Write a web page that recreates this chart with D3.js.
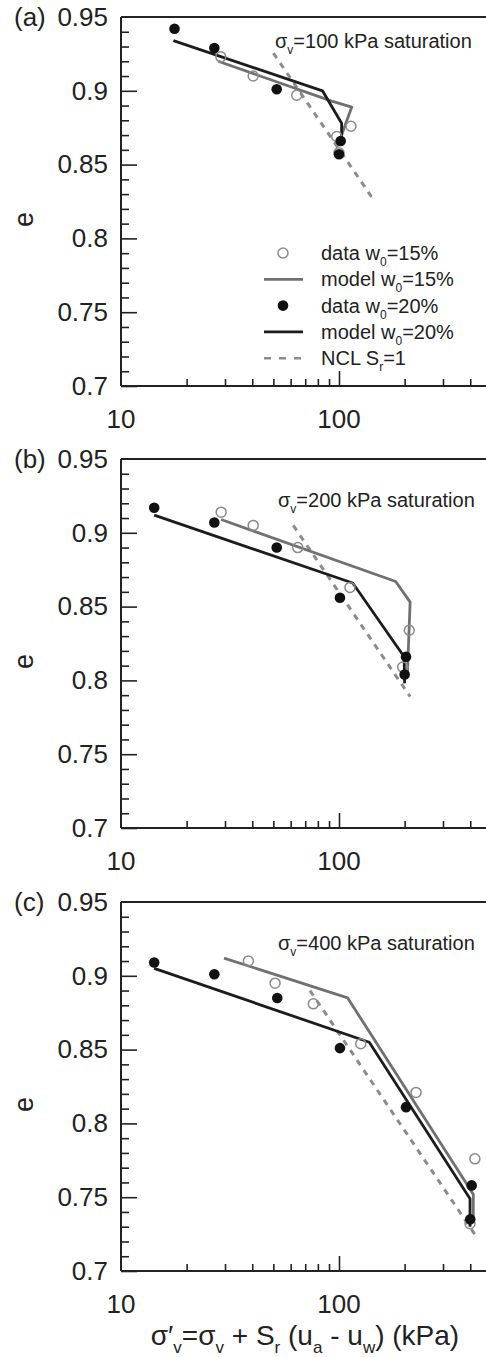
<!DOCTYPE html>
<html>
<head>
<meta charset="utf-8">
<script src="https://cdn.jsdelivr.net/npm/d3@7"></script>
<style>
  body { margin: 0; background: #fff; }
  svg { display: block; font-family: "Liberation Sans", Arial, sans-serif; }
  .tick text { fill: #222; }
</style>
</head>
<body>
<script>
// ---- data (sigma'_v in kPa, void ratio e) ----
var panelLabels = ['(a)', '(b)', '(c)'];
var sigmaV = ['100', '200', '400'];

// (a) sigma_v = 100 kPa
var aData15  = [[28.7, 0.923], [40.4, 0.910], [64, 0.897], [97.6, 0.869], [113.5, 0.876], [100, 0.858]];
var aData20  = [[17.6, 0.942], [26.8, 0.929], [51.8, 0.901], [101.8, 0.866], [100, 0.857]];
var aModel15 = [[27.9, 0.920], [92.6, 0.893], [114.4, 0.889], [102.8, 0.870]];
var aModel20 = [[17.4, 0.934], [84, 0.900], [102.8, 0.878], [102.8, 0.867]];
var aNcl     = [[50, 0.9255], [143.7, 0.8264]];

// (b) sigma_v = 200 kPa
var bData15  = [[28.8, 0.914], [40.4, 0.905], [64.7, 0.890], [112.3, 0.863], [210, 0.834], [196, 0.809]];
var bData20  = [[14.2, 0.917], [26.8, 0.907], [51.8, 0.890], [101, 0.856], [203, 0.816], [200, 0.804]];
var bModel15 = [[28.8, 0.909], [182, 0.867], [212, 0.853], [206, 0.805]];
var bModel20 = [[14.2, 0.912], [115.6, 0.866], [199, 0.816], [200, 0.798]];
var bNcl     = [[61.7, 0.905], [212, 0.789]];

// (c) sigma_v = 400 kPa
var cData15  = [[38.4, 0.910], [50.9, 0.895], [76.2, 0.881], [125.8, 0.854], [225.6, 0.821], [420, 0.776], [399, 0.732]];
var cData20  = [[14.2, 0.909], [26.8, 0.901], [52.1, 0.885], [101, 0.851], [203, 0.811], [406, 0.758], [400, 0.735]];
var cModel15 = [[29.7, 0.912], [109.6, 0.885], [413, 0.752], [413, 0.735]];
var cModel20 = [[14.2, 0.905], [137.7, 0.855], [399, 0.749], [399, 0.730]];
var cNcl     = [[73.6, 0.890], [428, 0.723]];

var yMajor = [0.7, 0.75, 0.8, 0.85, 0.9, 0.95];
var yMajorLabels = ['0.7', '0.75', '0.8', '0.85', '0.9', '0.95'];
var yMinor = [0.71, 0.72, 0.73, 0.74, 0.76, 0.77, 0.78, 0.79, 0.81, 0.82, 0.83, 0.84, 0.86, 0.87, 0.88, 0.89, 0.91, 0.92, 0.93, 0.94];
var xMajor = [10, 100];
var xMajorLabels = ['10', '100'];
var xMinor = [20, 30, 40, 50, 60, 70, 80, 90, 200, 300, 400, 500];

var legendItems = [
  {kind: 'open',   pre: 'data w',  sub: '0', post: '=15%'},
  {kind: 'line15', pre: 'model w', sub: '0', post: '=15%'},
  {kind: 'filled', pre: 'data w',  sub: '0', post: '=20%'},
  {kind: 'line20', pre: 'model w', sub: '0', post: '=20%'},
  {kind: 'ncl',    pre: 'NCL S',   sub: 'r', post: '=1'}
];

var panels = [
  {d15: aData15, d20: aData20, m15: aModel15, m20: aModel20, ncl: aNcl},
  {d15: bData15, d20: bData20, m15: bModel15, m20: bModel20, ncl: bNcl},
  {d15: cData15, d20: cData20, m15: cModel15, m20: cModel20, ncl: cNcl}
];

// ---- layout ----
var W = 486, H = 1357;
var left = 121;
var tops = [17, 459, 902];
var plotH = 369;
var noteOffset = [31, 48, 48];
var noteX = [275, 278, 278];

var col15 = '#707070', col20 = '#1c1c1c', colNcl = '#8c8c8c', colOpen = '#8a8a8a', textCol = '#222';

var svg = d3.select('body').append('svg')
    .attr('width', W)
    .attr('height', H);

var x = d3.scaleLog()
    .domain([10, 1000])
    .range([left, left + 2 * 218]);

var y = d3.scaleLinear()
    .domain([0.7, 0.95])
    .range([plotH, 0]);

var line = d3.line()
    .x(d => x(d[0]))
    .y(d => y(d[1]));

// text with subscript pieces: [[text, isSub], ...]
function richText(sel, parts, size) {
  var subSize = Math.round(size * 0.62);
  var shift = Math.round(size * 0.28);
  var down = false;
  parts.forEach(p => {
    var t = sel.append('tspan').text(p[0]);
    if (p[1]) {
      t.attr('font-size', subSize).attr('dy', down ? 0 : shift);
      down = true;
    } else {
      t.attr('font-size', size).attr('dy', down ? -shift : 0);
      down = false;
    }
  });
  return sel;
}

panels.forEach((p, i) => {
  var g = svg.append('g')
      .attr('transform', `translate(0,${tops[i]})`);

  // frame
  g.append('line')
    .attr('x1', left).attr('x2', W)
    .attr('y1', 0).attr('y2', 0)
    .attr('stroke', '#222').attr('stroke-width', 2);
  g.append('line')
    .attr('x1', left).attr('x2', W)
    .attr('y1', plotH).attr('y2', plotH)
    .attr('stroke', '#222').attr('stroke-width', 2);
  g.append('line')
    .attr('x1', left).attr('x2', left)
    .attr('y1', 0).attr('y2', plotH)
    .attr('stroke', '#222').attr('stroke-width', 2);

  // y ticks pointing inwards
  g.append('g')
    .attr('transform', `translate(${left},0)`)
    .call(d3.axisRight(y).tickValues(yMinor).tickSize(8).tickFormat(''))
    .call(a => a.select('.domain').remove())
    .call(a => a.selectAll('line').attr('stroke', '#222').attr('stroke-width', 1.6));
  g.append('g')
    .attr('transform', `translate(${left},0)`)
    .call(d3.axisRight(y).tickValues(yMajor.slice(0, 5)).tickSize(16).tickFormat(''))
    .call(a => a.select('.domain').remove())
    .call(a => a.selectAll('line').attr('stroke', '#222').attr('stroke-width', 1.6));
  g.append('g')
    .attr('transform', `translate(${left},0)`)
    .call(d3.axisLeft(y).tickValues(yMajor).tickSize(0).tickPadding(13)
      .tickFormat((d, k) => yMajorLabels[k]))
    .call(a => a.select('.domain').remove())
    .call(a => a.selectAll('text').attr('font-size', 26).attr('font-family', null));

  // x ticks pointing inwards
  g.append('g')
    .attr('transform', `translate(0,${plotH})`)
    .call(d3.axisTop(x).tickValues(xMinor).tickSize(7).tickFormat(''))
    .call(a => a.select('.domain').remove())
    .call(a => a.selectAll('line').attr('stroke', '#222').attr('stroke-width', 1.6));
  g.append('g')
    .attr('transform', `translate(0,${plotH})`)
    .call(d3.axisTop(x).tickValues([100]).tickSize(15).tickFormat(''))
    .call(a => a.select('.domain').remove())
    .call(a => a.selectAll('line').attr('stroke', '#222').attr('stroke-width', 1.6));
  g.selectAll('.xlab')
    .data(xMajor)
    .join('text')
      .attr('class', 'xlab')
      .attr('x', d => x(d))
      .attr('y', plotH + 42)
      .attr('text-anchor', 'middle')
      .attr('font-size', 26)
      .attr('fill', textCol)
      .text((d, k) => xMajorLabels[k]);

  // panel label and y title
  g.append('text')
    .attr('x', 14)
    .attr('y', 9)
    .attr('font-size', 26)
    .attr('fill', textCol)
    .text(panelLabels[i]);
  g.append('text')
    .attr('transform', `translate(33,${plotH / 2 + 18}) rotate(-90)`)
    .attr('text-anchor', 'middle')
    .attr('font-size', 27)
    .attr('fill', textCol)
    .text('e');

  // annotation
  richText(g.append('text')
      .attr('x', noteX[i])
      .attr('y', noteOffset[i])
      .attr('fill', textCol),
    [['σ', false], ['v', true], ['=' + sigmaV[i] + ' kPa saturation', false]], 20);

  // curves
  g.append('path')
    .datum(p.ncl)
    .attr('d', line)
    .attr('fill', 'none')
    .attr('stroke', colNcl)
    .attr('stroke-width', 3)
    .attr('stroke-dasharray', '6,6');
  g.append('path')
    .datum(p.m15)
    .attr('d', line)
    .attr('fill', 'none')
    .attr('stroke', col15)
    .attr('stroke-width', 2.8)
    .attr('stroke-linejoin', 'round');
  g.append('path')
    .datum(p.m20)
    .attr('d', line)
    .attr('fill', 'none')
    .attr('stroke', col20)
    .attr('stroke-width', 2.8)
    .attr('stroke-linejoin', 'round');

  g.selectAll('.open')
    .data(p.d15)
    .join('circle')
      .attr('class', 'open')
      .attr('cx', d => x(d[0]))
      .attr('cy', d => y(d[1]))
      .attr('r', 5)
      .attr('fill', 'none')
      .attr('stroke', colOpen)
      .attr('stroke-width', 1.5);
  g.selectAll('.filled')
    .data(p.d20)
    .join('circle')
      .attr('class', 'filled')
      .attr('cx', d => x(d[0]))
      .attr('cy', d => y(d[1]))
      .attr('r', 5.3)
      .attr('fill', '#111');

  // legend only in (a)
  if (i === 0) {
    var lg = g.append('g');
    var rowY = k => 236 + k * 26.3;
    legendItems.forEach((it, k) => {
      var cy = rowY(k);
      if (it.kind === 'open') {
        lg.append('circle').attr('cx', 283).attr('cy', cy).attr('r', 5)
          .attr('fill', 'none').attr('stroke', colOpen).attr('stroke-width', 1.5);
      } else if (it.kind === 'filled') {
        lg.append('circle').attr('cx', 283).attr('cy', cy).attr('r', 5.3).attr('fill', '#111');
      } else {
        lg.append('line').attr('x1', 264).attr('x2', 303).attr('y1', cy).attr('y2', cy)
          .attr('stroke', it.kind === 'line15' ? col15 : it.kind === 'line20' ? col20 : colNcl)
          .attr('stroke-width', it.kind === 'ncl' ? 2.5 : 2.8)
          .attr('stroke-dasharray', it.kind === 'ncl' ? '7,8' : null);
      }
      richText(lg.append('text')
          .attr('x', 321)
          .attr('y', cy + 7)
          .attr('fill', textCol),
        [[it.pre, false], [it.sub, true], [it.post, false]], 20);
    });
  }
});

// x-axis title under the last panel
richText(svg.append('text')
    .attr('x', 305)
    .attr('y', 1345)
    .attr('text-anchor', 'middle')
    .attr('fill', textCol),
  [['σ\u2032', false], ['v', true], ['=σ', false], ['v', true], [' + S', false], ['r', true],
   [' (u', false], ['a', true], [' - u', false], ['w', true], [') (kPa)', false]], 28);
</script>
</body>
</html>
